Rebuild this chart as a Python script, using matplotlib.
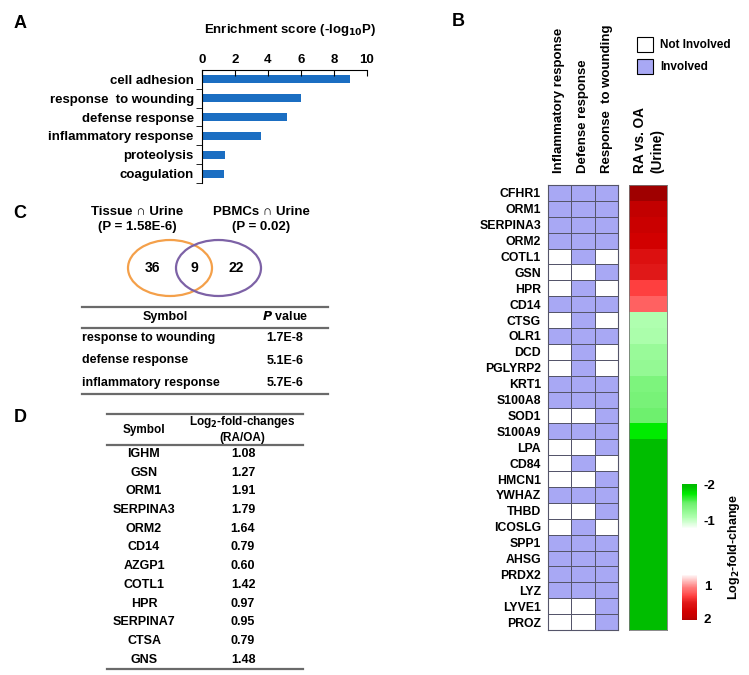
import numpy as np
import matplotlib
matplotlib.use("Agg")
import matplotlib.pyplot as plt
from matplotlib.colors import LinearSegmentedColormap, ListedColormap
from matplotlib.patches import Ellipse, Rectangle

plt.rcParams['font.family'] = ['Liberation Sans', 'DejaVu Sans']
plt.rcParams['font.weight'] = 'bold'

W, H = 749, 675

# ---------------- data ----------------
# panel A
go_terms = ["cell adhesion", "response  to wounding", "defense response",
            "inflammatory response", "proteolysis", "coagulation"]
go_scores = [8.97, 6.0, 5.13, 3.58, 1.39, 1.35]

# panel B
genes = ["CFHR1", "ORM1", "SERPINA3", "ORM2", "COTL1", "GSN", "HPR", "CD14",
         "CTSG", "OLR1", "DCD", "PGLYRP2", "KRT1", "S100A8", "SOD1", "S100A9",
         "LPA", "CD84", "HMCN1", "YWHAZ", "THBD", "ICOSLG", "SPP1", "AHSG",
         "PRDX2", "LYZ", "LYVE1", "PROZ"]
inflammatory = [1, 1, 1, 1, 0, 0, 0, 1, 0, 1, 0, 0, 1, 1, 0, 1, 0, 0, 0, 1, 0, 0, 1, 1, 1, 1, 0, 0]
defense      = [1, 1, 1, 1, 1, 0, 1, 1, 1, 1, 1, 1, 1, 1, 0, 1, 0, 1, 0, 1, 0, 1, 1, 1, 1, 1, 0, 0]
wounding     = [1, 1, 1, 1, 0, 1, 0, 1, 0, 1, 0, 0, 1, 1, 1, 1, 1, 0, 1, 1, 1, 0, 1, 1, 1, 1, 1, 1]
log2fc = [2.15, 1.91, 1.79, 1.64, 1.42, 1.27, 0.97, 0.79,
          -0.5, -0.55, -0.7, -0.75, -0.95, -1.0, -1.1, -1.5,
          -1.9, -1.9, -1.9, -1.9, -1.9, -1.9, -1.9, -1.9, -1.9, -1.9, -1.9, -1.9]
go_cols = ["Inflammatory response", "Defense response", "Response  to wounding"]

# panel C
venn_counts = [36, 9, 22]
c_terms = ["response to wounding", "defense response", "inflammatory response"]
c_pvals = ["1.7E-8", "5.1E-6", "5.7E-6"]

# panel D
d_symbols = ["IGHM", "GSN", "ORM1", "SERPINA3", "ORM2", "CD14", "AZGP1",
             "COTL1", "HPR", "SERPINA7", "CTSA", "GNS"]
d_values = ["1.08", "1.27", "1.91", "1.79", "1.64", "0.79", "0.60",
            "1.42", "0.97", "0.95", "0.79", "1.48"]

lavender = "#a8a8f4"
vmin, vmax = -2.2, 2.2
anchors = [(-2.2, "#00b400"), (-1.8, "#00c000"), (-1.5, "#00ec00"), (-1.1, "#6ef06e"),
           (-0.8, "#8ef88e"), (-0.5, "#b0ffb0"), (0.0, "#ffffff"), (0.6, "#ff7a7a"),
           (0.79, "#ff6060"), (0.97, "#ff4040"), (1.27, "#e01818"), (1.42, "#dc1010"),
           (1.64, "#d20000"), (1.91, "#c40000"), (2.2, "#9a0000")]
fc_cmap = LinearSegmentedColormap.from_list(
    "fc", [((v - vmin) / (vmax - vmin), c) for v, c in anchors])


def px_axes(fig, x0, y0, x1, y1):
    return fig.add_axes([x0 / W, 1 - y1 / H, (x1 - x0) / W, (y1 - y0) / H])


fig = plt.figure(figsize=(W / 100, H / 100), dpi=100)
bg = fig.add_axes([0, 0, 1, 1])
bg.set_xlim(0, W)
bg.set_ylim(H, 0)
bg.axis("off")

# panel letters
for lab, x, y in [("A", 20, 24), ("B", 458, 22), ("C", 20, 213), ("D", 20, 418)]:
    bg.text(x, y, lab, fontsize=13, fontweight="bold", ha="center", va="center")

# ---------------- panel A ----------------
axA = px_axes(fig, 202, 70, 367, 183)
axA.barh(range(len(go_terms)), go_scores, height=0.43, color="#1b6ec2")
axA.set_xlim(0, 10)
axA.set_ylim(5.5, -0.5)
axA.xaxis.tick_top()
axA.set_xticks([0, 2, 4, 6, 8, 10])
axA.tick_params(axis="x", direction="in", length=4, labelsize=9.5, pad=3)
axA.set_yticks(range(len(go_terms)))
axA.set_yticklabels(go_terms, fontsize=9.5)
axA.tick_params(axis="y", which="major", length=0, pad=6)
axA.set_yticks(np.arange(0.5, 6, 1), minor=True)
axA.tick_params(axis="y", which="minor", direction="out", length=4)
for s in ["right", "bottom"]:
    axA.spines[s].set_visible(False)
for lbl in axA.get_xticklabels() + axA.get_yticklabels():
    lbl.set_fontweight("bold")
bg.text(290, 30, "Enrichment score (-log$_{\\mathbf{10}}$P)", fontsize=9.5,
        ha="center", va="center")

# ---------------- panel B ----------------
member = np.array([inflammatory, defense, wounding]).T
axG = px_axes(fig, 548, 185, 618, 630)
axG.pcolormesh(member, cmap=ListedColormap(["white", lavender]), vmin=0, vmax=1,
               edgecolors="#55556a", linewidth=0.6)
axG.set_ylim(len(genes), 0)
axG.set_xlim(0, 3)
axG.set_xticks([])
axG.set_yticks(np.arange(len(genes)) + 0.5)
axG.set_yticklabels(genes, fontsize=8.8, fontweight="bold")
axG.tick_params(axis="y", length=0, pad=5)
for s in axG.spines.values():
    s.set_color("#55556a")
    s.set_linewidth(0.8)

axH = px_axes(fig, 629, 185, 667, 630)
axH.pcolormesh(np.array(log2fc).reshape(-1, 1), cmap=fc_cmap, vmin=vmin, vmax=vmax)
axH.set_ylim(len(genes), 0)
axH.set_xticks([])
axH.set_yticks([])
for s in axH.spines.values():
    s.set_color("#777777")
    s.set_linewidth(0.6)

for lab, x in zip(go_cols, [559, 583, 607]):
    bg.text(x, 173, lab, rotation=90, fontsize=9.5, ha="center", va="bottom")
bg.text(640, 173, "RA vs. OA", rotation=90, fontsize=9.8, ha="center", va="bottom")
bg.text(657, 173, "(Urine)", rotation=90, fontsize=9.8, ha="center", va="bottom")

# legend
bg.add_patch(Rectangle((637, 37), 16, 15, facecolor="white", edgecolor="black", lw=0.8))
bg.add_patch(Rectangle((637, 59), 16, 15, facecolor=lavender, edgecolor="black", lw=0.8))
bg.text(660, 45, "Not Involved", fontsize=8.5, va="center")
bg.text(660, 67, "Involved", fontsize=8.5, va="center")

# colour bar
axCg = px_axes(fig, 682, 484, 697, 528)
axCg.imshow(np.linspace(-1.9, -0.05, 50).reshape(-1, 1), cmap=fc_cmap, vmin=vmin,
            vmax=vmax, aspect="auto")
axCr = px_axes(fig, 682, 575, 697, 620)
axCr.imshow(np.linspace(0.05, 2.0, 50).reshape(-1, 1), cmap=fc_cmap, vmin=vmin,
            vmax=vmax, aspect="auto")
for a in (axCg, axCr):
    a.axis("off")
for t, y in [("-2", 486), ("-1", 522), ("1", 587), ("2", 620)]:
    bg.text(704, y, t, fontsize=9.5, va="center")
bg.text(734, 547, "Log$_{\\mathbf{2}}$-fold-change", rotation=90, fontsize=9,
        ha="center", va="center")

# ---------------- panel C ----------------
bg.add_patch(Ellipse((170, 268), 84, 56, fill=False, edgecolor="#f4a04a", lw=1.6))
bg.add_patch(Ellipse((218.5, 268), 85, 56, fill=False, edgecolor="#7d62a6", lw=1.6))
for n, x in zip(venn_counts, [152, 194, 236]):
    bg.text(x, 268, str(n), fontsize=10, ha="center", va="center")
bg.text(137, 212, "Tissue \u2229 Urine", fontsize=9.5, ha="center", va="center")
bg.text(137, 227, "(P = 1.58E-6)", fontsize=9.5, ha="center", va="center")
bg.text(261, 212, "PBMCs \u2229 Urine", fontsize=9.5, ha="center", va="center")
bg.text(261, 227, "(P = 0.02)", fontsize=9.5, ha="center", va="center")

line_kw = dict(color="#6a6a6a", lw=1.6)
bg.plot([82, 328], [307, 307], **line_kw)
bg.plot([82, 328], [328, 328], **line_kw)
bg.plot([82, 328], [394, 394], **line_kw)
bg.text(165, 317, "Symbol", fontsize=9, ha="center", va="center")
bg.text(285, 317, "$\\bfit{P}$ value", fontsize=9, ha="center", va="center")
for i, (t, p) in enumerate(zip(c_terms, c_pvals)):
    y = 338 + i * 22.5
    bg.text(82, y, t, fontsize=9, ha="left", va="center")
    bg.text(285, y, p, fontsize=9, ha="center", va="center")

# ---------------- panel D ----------------
bg.plot([107, 303], [414, 414], **line_kw)
bg.plot([107, 303], [445, 445], **line_kw)
bg.plot([107, 303], [669, 669], **line_kw)
bg.text(144, 430, "Symbol", fontsize=8.5, ha="center", va="center")
bg.text(242, 422, "Log$_{\\mathbf{2}}$-fold-changes", fontsize=8.5, ha="center", va="center")
bg.text(242, 438, "(RA/OA)", fontsize=8.5, ha="center", va="center")
for i, (s, v) in enumerate(zip(d_symbols, d_values)):
    y = 454 + i * 18.7
    bg.text(144, y, s, fontsize=9, ha="center", va="center")
    bg.text(243, y, v, fontsize=9, ha="center", va="center")

fig.savefig("out.png", dpi=100)
